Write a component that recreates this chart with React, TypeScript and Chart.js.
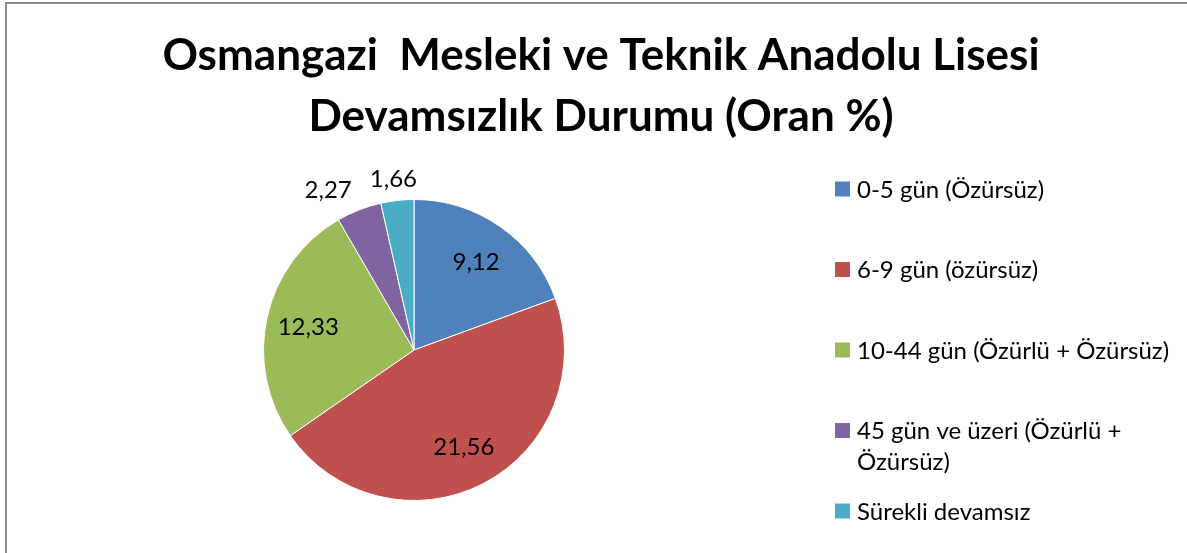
import React, { useEffect, useRef } from 'react';
import { Chart, registerables } from 'chart.js';

Chart.register(...registerables);

// ---- data ----
const categories = [
  '0-5 gün (Özürsüz)',
  '6-9 gün (özürsüz)',
  '10-44 gün (Özürlü + Özürsüz)',
  '45 gün ve üzeri (Özürlü + Özürsüz)',
  'Sürekli devamsız',
];
const values = [9.12, 21.56, 12.33, 2.27, 1.66];
const colors = ['#4F81BD', '#C0504D', '#9BBB59', '#8064A2', '#4BACC6'];
const titleLines = ['Osmangazi  Mesleki ve Teknik Anadolu Lisesi', 'Devamsızlık Durumu (Oran %)'];

// ---- style ----
const FONT = 'Lato, "Open Sans", sans-serif';
const W = 1187;
const H = 553;
const TITLE_SIZE = 44;
const TEXT_SIZE = 24;

const fmt = (v: number) => v.toFixed(2).replace('.', ',');

const titlePlugin = {
  id: 'excelTitle',
  afterDraw(chart: any) {
    const ctx = chart.ctx;
    ctx.save();
    ctx.fillStyle = '#000';
    ctx.font = `bold ${TITLE_SIZE}px ${FONT}`;
    ctx.textAlign = 'center';
    ctx.textBaseline = 'alphabetic';
    titleLines.forEach((line, i) => {
      ctx.fillText(line, 601, 70 + i * 61);
    });
    ctx.restore();
  },
};

function wrap(ctx: CanvasRenderingContext2D, text: string, maxW: number): string[] {
  const words = text.split(' ');
  const lines: string[] = [];
  let cur = '';
  for (const w of words) {
    const test = cur ? cur + ' ' + w : w;
    if (ctx.measureText(test).width > maxW && cur) {
      lines.push(cur);
      cur = w;
    } else {
      cur = test;
    }
  }
  if (cur) lines.push(cur);
  return lines;
}

const legendPlugin = {
  id: 'excelLegend',
  afterDraw(chart: any) {
    const ctx = chart.ctx;
    const labels: string[] = chart.data.labels;
    const bg: string[] = chart.data.datasets[0].backgroundColor;
    ctx.save();
    ctx.font = `${TEXT_SIZE}px ${FONT}`;
    ctx.textAlign = 'left';
    ctx.textBaseline = 'middle';
    labels.forEach((lab, i) => {
      const y = 189 + i * 80.5;
      ctx.fillStyle = bg[i];
      ctx.fillRect(835, y - 7.5, 15, 15);
      ctx.fillStyle = '#000';
      const lines = wrap(ctx, lab, 318);
      lines.forEach((ln, k) => ctx.fillText(ln, 857, y + 1 + k * 31));
    });
    ctx.restore();
  },
};

const labelPlugin = {
  id: 'excelDataLabels',
  afterDatasetsDraw(chart: any) {
    const ctx = chart.ctx;
    const ds = chart.data.datasets[0];
    const data: number[] = ds.data;
    const total = data.reduce((a, b) => a + b, 0);
    const meta = chart.getDatasetMeta(0);
    ctx.save();
    ctx.font = `${TEXT_SIZE}px ${FONT}`;
    ctx.fillStyle = '#000';
    ctx.textAlign = 'center';
    ctx.textBaseline = 'middle';
    const placed: { l: number; r: number; t: number; b: number }[] = [];
    const order = meta.data.map((_: any, i: number) => i).reverse();
    order.forEach((i: number) => {
      const arc = meta.data[i];
      const p = arc.getProps(['x', 'y', 'startAngle', 'endAngle', 'outerRadius'], true);
      const mid = (p.startAngle + p.endAngle) / 2;
      const text = fmt(data[i]);
      const tw = ctx.measureText(text).width;
      const th = 20;
      let cx: number;
      let cy: number;
      if (data[i] / total > 0.1) {
        const r = p.outerRadius * 0.72;
        cx = p.x + Math.cos(mid) * r;
        cy = p.y + Math.sin(mid) * r;
      } else {
        const r = p.outerRadius + 12;
        cx = p.x + Math.cos(mid) * r + (Math.cos(mid) * tw) / 2;
        cy = p.y + Math.sin(mid) * r + (Math.sin(mid) * th) / 2;
        const gap = 18;
        for (const b of placed) {
          const overlapY = cy - th / 2 < b.b && cy + th / 2 > b.t;
          if (!overlapY) continue;
          if (cx < b.l + (b.r - b.l) / 2) {
            const maxRight = b.l - gap;
            if (cx + tw / 2 > maxRight) cx = maxRight - tw / 2;
          } else {
            const minLeft = b.r + gap;
            if (cx - tw / 2 < minLeft) cx = minLeft + tw / 2;
          }
        }
        placed.push({ l: cx - tw / 2, r: cx + tw / 2, t: cy - th / 2, b: cy + th / 2 });
      }
      ctx.fillText(text, cx, cy + 1);
    });
    ctx.restore();
  },
};

export default function App() {
  const ref = useRef<HTMLCanvasElement | null>(null);

  useEffect(() => {
    if (!ref.current) return;
    const chart = new Chart(ref.current, {
      type: 'pie',
      data: {
        labels: categories,
        datasets: [
          {
            data: values,
            backgroundColor: colors,
            borderColor: '#ffffff',
            borderWidth: 1,
          },
        ],
      },
      options: {
        responsive: false,
        animation: false,
        devicePixelRatio: 1,
        layout: {
          padding: { left: 263, right: W - 565, top: 199, bottom: H - 501 },
        },
        plugins: {
          legend: { display: false },
          title: { display: false },
          tooltip: { enabled: false },
        },
        events: [],
      },
      plugins: [titlePlugin, legendPlugin, labelPlugin],
    });
    return () => chart.destroy();
  }, []);

  return (
    <div style={{ position: 'fixed', left: 0, top: 0, width: W, height: H, overflow: 'hidden', background: '#fff' }}>
      <canvas ref={ref} width={W} height={H} style={{ position: 'absolute', left: 0, top: 0, width: W, height: H }} />
      <div
        style={{
          position: 'absolute',
          left: 5,
          top: 2,
          width: 2000,
          height: 2000,
          borderLeft: '2px solid #8c8c8c',
          borderTop: '2px solid #8c8c8c',
          pointerEvents: 'none',
        }}
      />
    </div>
  );
}
